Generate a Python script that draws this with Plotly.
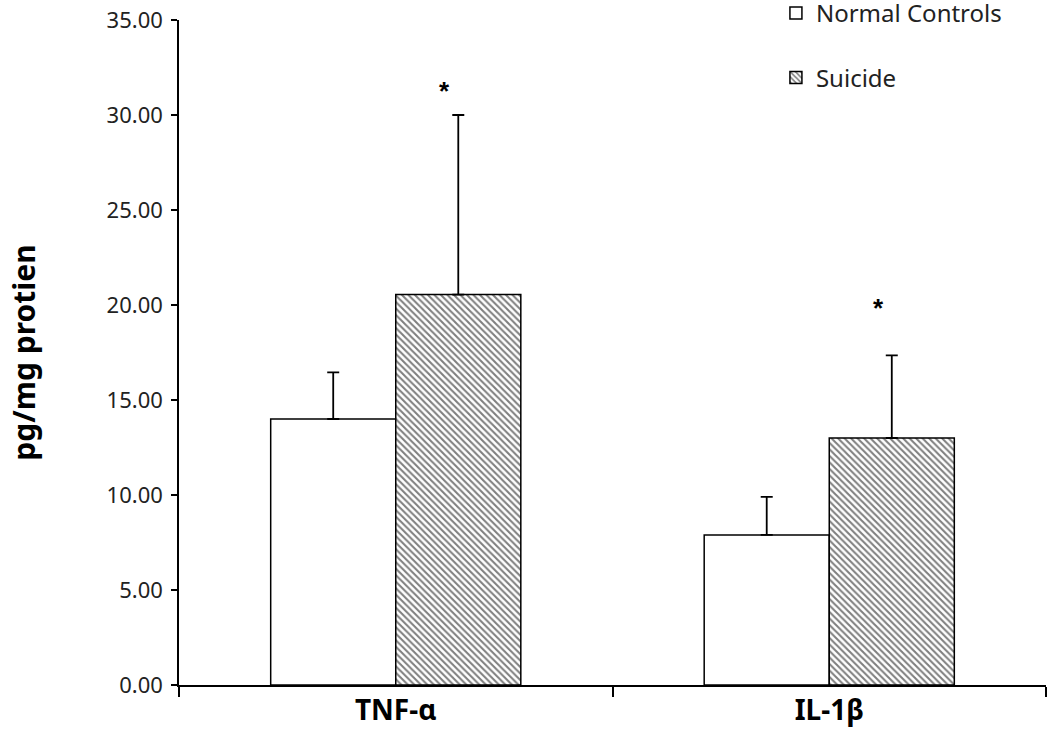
import plotly.graph_objects as go

categories = ["TNF-α", "IL-1β"]
normal_vals = [14.0, 7.9]
normal_err = [2.45, 2.0]
suicide_vals = [20.55, 13.0]
suicide_err = [9.45, 4.35]
sig_y = [31.25, 19.85]
y_ticks = [0, 5, 10, 15, 20, 25, 30, 35]

fig = go.Figure()
fig.add_trace(go.Bar(
    x=categories, y=normal_vals, name="Normal Controls",
    marker=dict(color="white", line=dict(color="black", width=1.5)),
    error_y=dict(type="data", symmetric=False, array=normal_err,
                 arrayminus=[0, 0], color="black", thickness=1.8, width=6),
    legend="legend",
))
fig.add_trace(go.Bar(
    x=categories, y=suicide_vals, name="Suicide",
    marker=dict(color="white", line=dict(color="black", width=1.5),
                pattern=dict(shape="\\", fgcolor="black", bgcolor="white",
                             size=4.6, solidity=0.45)),
    error_y=dict(type="data", symmetric=False, array=suicide_err,
                 arrayminus=[0, 0], color="black", thickness=1.8, width=6),
    legend="legend2",
))

for c, yv in zip(categories, sig_y):
    fig.add_annotation(x=c, y=yv, text="<b>*</b>", showarrow=False,
                       xshift=49, font=dict(size=26, color="black",
                                            family="Liberation Sans"))

fig.update_layout(
    width=1050, height=756,
    margin=dict(l=179, r=4, t=20, b=71, autoexpand=False),
    paper_bgcolor="white", plot_bgcolor="white",
    barmode="group", bargap=0.423, bargroupgap=0,
    font=dict(family="Noto Sans", color="#222", size=22),
    legend=dict(x=0.6885, y=1.010, xanchor="left", yanchor="middle",
                font=dict(size=24, color="#222"), bgcolor="rgba(0,0,0,0)",
                itemwidth=30),
    legend2=dict(x=0.6885, y=0.913, xanchor="left", yanchor="middle",
                 font=dict(size=24, color="#222"), bgcolor="rgba(0,0,0,0)",
                 itemwidth=30),
    showlegend=True,
    xaxis=dict(showline=True, linecolor="black", linewidth=1.5,
               ticks="outside", tickson="boundaries", ticklen=10,
               tickcolor="black", tickwidth=1.5, automargin=False,
               tickfont=dict(size=28, color="black", family="Noto Sans"),
               ticklabelstandoff=0, showgrid=False),
    yaxis=dict(range=[0, 35], tickvals=y_ticks,
               ticktext=[f"{v:.2f}" for v in y_ticks],
               showline=True, linecolor="black", linewidth=1.5,
               ticks="outside", ticklen=6, tickcolor="black", tickwidth=1.5,
               showgrid=False, zeroline=False, automargin=False,
               tickfont=dict(size=22, color="#222"), ticklabelstandoff=4,
               title=dict(text="<b>pg/mg protien</b>", standoff=62,
                          font=dict(size=30, color="black"))),
)
fig.update_xaxes(tickvals=categories, ticktext=[f"<b>{c}</b>" for c in categories])

fig.write_html("out.html", config={"displayModeBar": False},
               post_script="document.body.style.margin='0';")
